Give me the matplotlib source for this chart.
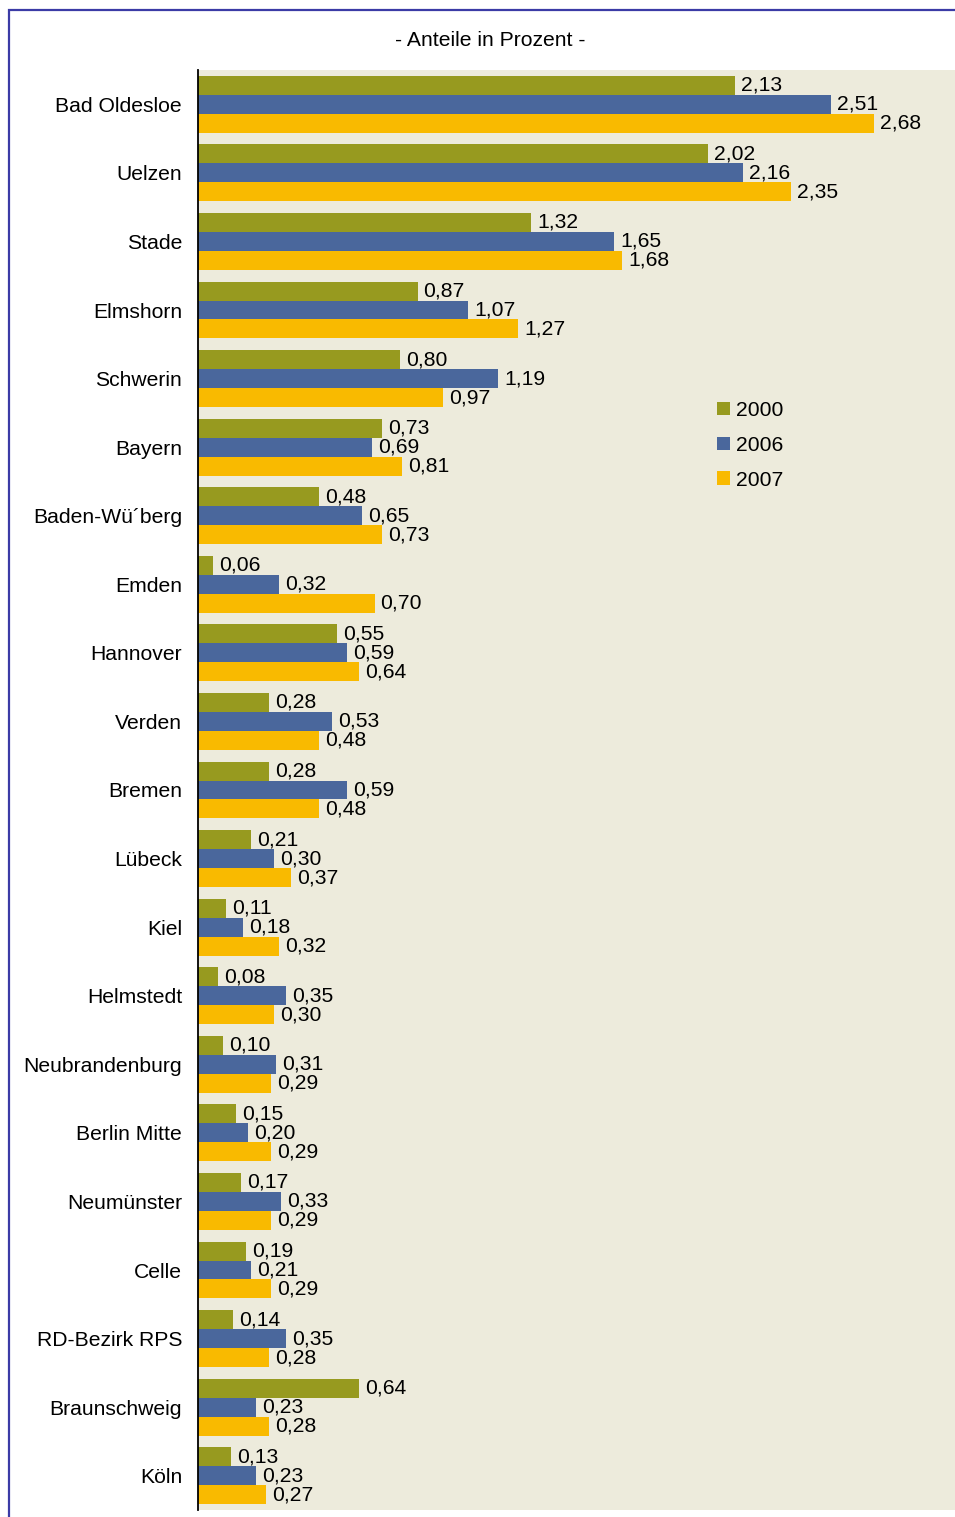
import matplotlib
matplotlib.use("Agg")
import matplotlib.pyplot as plt
from matplotlib.patches import Rectangle, Patch
import numpy as np

plt.rcParams['font.family'] = ['Liberation Sans', 'DejaVu Sans']

categories = ["Bad Oldesloe", "Uelzen", "Stade", "Elmshorn", "Schwerin", "Bayern",
              "Baden-Wü´berg", "Emden", "Hannover", "Verden", "Bremen", "Lübeck",
              "Kiel", "Helmstedt", "Neubrandenburg", "Berlin Mitte", "Neumünster",
              "Celle", "RD-Bezirk RPS", "Braunschweig", "Köln"]
v2000 = [2.13, 2.02, 1.32, 0.87, 0.80, 0.73, 0.48, 0.06, 0.55, 0.28, 0.28, 0.21,
         0.11, 0.08, 0.10, 0.15, 0.17, 0.19, 0.14, 0.64, 0.13]
v2006 = [2.51, 2.16, 1.65, 1.07, 1.19, 0.69, 0.65, 0.32, 0.59, 0.53, 0.59, 0.30,
         0.18, 0.35, 0.31, 0.20, 0.33, 0.21, 0.35, 0.23, 0.23]
v2007 = [2.68, 2.35, 1.68, 1.27, 0.97, 0.81, 0.73, 0.70, 0.64, 0.48, 0.48, 0.37,
         0.32, 0.30, 0.29, 0.29, 0.29, 0.29, 0.28, 0.28, 0.27]
series_labels = ["2000", "2006", "2007"]
colors = ["#979A1F", "#4A679C", "#F9BA00"]

FS = 15.2
W, H = 955, 1517
fig = plt.figure(figsize=(W / 100, H / 100), dpi=100)
fig.patch.set_facecolor("white")

# outer frame
fig.patches.append(Rectangle((8.5 / W, -0.1), 1.2, 1 - 9.5 / H + 0.1,
                             transform=fig.transFigure, fill=False,
                             edgecolor="#3B3BA6", linewidth=1.6))

ax = fig.add_axes([198 / W, 1 - 1510 / H, (W - 198) / W, (1510 - 70) / H])
ax.set_facecolor("#EDEBDC")

n = len(categories)
y = np.arange(n)
bh = 0.277
for i, (vals, col) in enumerate(zip([v2000, v2006, v2007], colors)):
    pos = y + (i - 1) * bh
    ax.barh(pos, vals, height=bh, color=col, linewidth=0)
    for p, v in zip(pos, vals):
        ax.annotate(f"{v:.2f}".replace(".", ","), (v, p), xytext=(4.3, 0),
                    textcoords="offset points", va="center", ha="left",
                    fontsize=FS, color="black")

ax.set_xlim(0, 3.0)
ax.set_ylim(n - 0.5, -0.5)
ax.set_yticks(y)
ax.set_yticklabels(categories, fontsize=FS)
ax.tick_params(axis="y", length=0, pad=11.5)
ax.set_xticks([])
for s in ["top", "right", "bottom"]:
    ax.spines[s].set_visible(False)
ax.spines["left"].set_linewidth(1.3)
ax.spines["left"].set_color("black")

handles = [Patch(facecolor=c, edgecolor="none", label=l) for c, l in zip(colors, series_labels)]
leg = ax.legend(handles=handles, loc="upper left",
                bbox_to_anchor=((717 - 198) / (W - 198), 1 - (401 - 70) / 1440),
                frameon=False, fontsize=FS, handlelength=0.62, handleheight=0.62,
                handletextpad=0.3, labelspacing=0.75, borderpad=0, borderaxespad=0)

fig.text(490 / W, 1 - 40 / H, "- Anteile in Prozent -", ha="center", va="center", fontsize=FS)

fig.savefig("out.png", dpi=100)
